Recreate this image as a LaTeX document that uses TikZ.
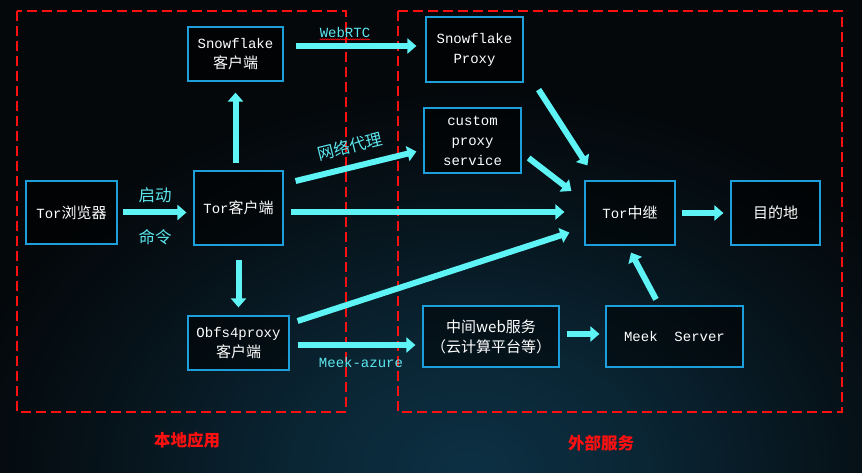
\documentclass[tikz,border=0pt]{standalone}
\usepackage{fontspec}
\setmainfont{Noto Sans CJK SC}
\newfontfamily\mono{Liberation Mono}
\usetikzlibrary{arrows.meta,calc,decorations.pathmorphing}
\definecolor{bgc}{HTML}{04080B}
\definecolor{glowc}{HTML}{0C3043}
\definecolor{boxc}{HTML}{1C9FDB}
\definecolor{arrc}{HTML}{5EF4F6}
\definecolor{lblc}{HTML}{5CE6EE}
\definecolor{redc}{HTML}{FF1010}
\pgfdeclareradialshading{glow}{\pgfpoint{0bp}{0bp}}{color(0bp)=(glowc); color(8bp)=(glowc!75!bgc); color(18bp)=(glowc!25!bgc); color(25bp)=(bgc); color(50bp)=(bgc)}
\newcommand\lat[1]{{\mono\fontsize{14}{20}\selectfont #1}}
\begin{document}
\begin{tikzpicture}[x=1pt,y=-1pt,
  box/.style={draw=boxc, line width=1.2pt, fill=black, fill opacity=0.5, text opacity=1, text=white, align=center, inner sep=0pt, font=\fontsize{15}{20}\selectfont},
  arr/.style={draw=arrc, line width=6pt, -{Triangle[length=9pt,width=15pt]}},
  lbl/.style={text=lblc, font=\fontsize{16.5}{18}\selectfont, inner sep=0pt},
  grp/.style={draw=redc, line width=2pt, dash pattern=on 10pt off 5pt},
  grplbl/.style={text=redc, font=\bfseries\fontsize{16.5}{18}\selectfont, inner sep=0pt}]
\useasboundingbox (0,0) rectangle (862,473);
\begin{scope}
  \clip (0,0) rectangle (862,473);
  \fill[bgc] (0,0) rectangle (862,473);
  \shade[shading=glow] (470,470) ellipse [x radius=520, y radius=380];
\end{scope}

% group frames
\draw[grp] (17,11) rectangle (346,412);
\draw[grp] (398,11) rectangle (842,412);
\node[grplbl] (localapp) at (187,440) {本地应用};
\node[grplbl] (external) at (601,443) {外部服务};

% nodes
\node[box, minimum width=91pt, minimum height=63pt] (browser) at (71.5,212.5) {\lat{Tor}浏览器};
\node[box, minimum width=89pt, minimum height=74pt] (client) at (238.5,208) {\lat{Tor}客户端};
\node[box, minimum width=95pt, minimum height=54pt] (snow) at (235.5,54) {\lat{Snowflake}\\客户端};
\node[box, minimum width=101pt, minimum height=54pt] (obfs) at (238.5,343) {\lat{Obfs4proxy}\\客户端};
\node[box, minimum width=97pt, minimum height=65pt] (sproxy) at (474.5,49.5) {\lat{Snowflake}\\\lat{Proxy}};
\node[box, minimum width=97pt, minimum height=65pt] (custom) at (472.5,140.5) {\lat{custom}\\\lat{proxy}\\\lat{service}};
\node[box, minimum width=90pt, minimum height=64pt] (relay) at (630,213) {\lat{Tor}中继};
\node[box, minimum width=89pt, minimum height=64pt] (dest) at (775.5,213) {目的地};
\node[box, minimum width=136pt, minimum height=61pt] (web) at (491,336.5) {中间web服务\\（云计算平台等）};
\node[box, minimum width=137pt, minimum height=61pt] (meek) at (674.5,336.5) {\lat{Meek~~Server}};

% connectors
\draw[arr] ($(browser.east)+(5,0)$) -- ([xshift=-7pt]client.west |- browser.east);
\draw[arr] ([yshift=7pt]snow.south |- client.north) -- ([yshift=-11pt]snow.south);
\draw[arr] ($(snow.east)+(12,-8)$) -- ($(sproxy.west |- snow.east)+(-9,-8)$);
\draw[arr] ($(client.east)+(12,-27)$) -- ($(custom.west)+(-7,11)$);
\draw[arr] ($(client.east)+(7,4)$) -- ($(relay.west)+(-20,-1)$);
\draw[arr] ([yshift=-14pt]client.south) -- ([yshift=8pt]obfs.north);
\draw[arr] ($(obfs.east)+(8,-22)$) -- ($(relay.south west)+(-15,-13)$);
\draw[arr] ($(obfs.east)+(8,2)$) -- ($(web.west)+(-7,8.5)$);
\draw[arr] ($(sproxy.south east)+(15,7)$) -- ($(relay.north west)+(3,-15)$);
\draw[arr] ($(custom.east)+(7,17.5)$) -- ($(relay.west)+(-13,-22)$);
\draw[arr] ($(relay.east)+(6,0)$) -- ($(dest.west)+(-7,0)$);
\draw[arr] ($(web.east)+(7,-2.5)$) -- ($(meek.west)+(-6,-2.5)$);
\draw[arr] ($(meek.north)+(-18.5,-6)$) -- ($(relay.south)+(1,7)$);

% labels
\node[lbl] (start) at (155,195) {启动};
\node[lbl] (cmd) at (155,237) {命令};
\node[lbl, text=lblc] (webrtc) at (345,32) {\lat{WebRTC}};
\draw[redc, line width=0.6pt, decorate, decoration={snake, amplitude=0.6pt, segment length=2.5pt}] ($(webrtc.south west)+(0,2)$) -- ($(webrtc.south east)+(0,2)$);
\node[lbl, rotate=14] (proxylbl) at (350,146) {网络代理};
\node[lbl] (meekaz) at (361,362) {\lat{Meek-azure}};
\end{tikzpicture}
\end{document}
